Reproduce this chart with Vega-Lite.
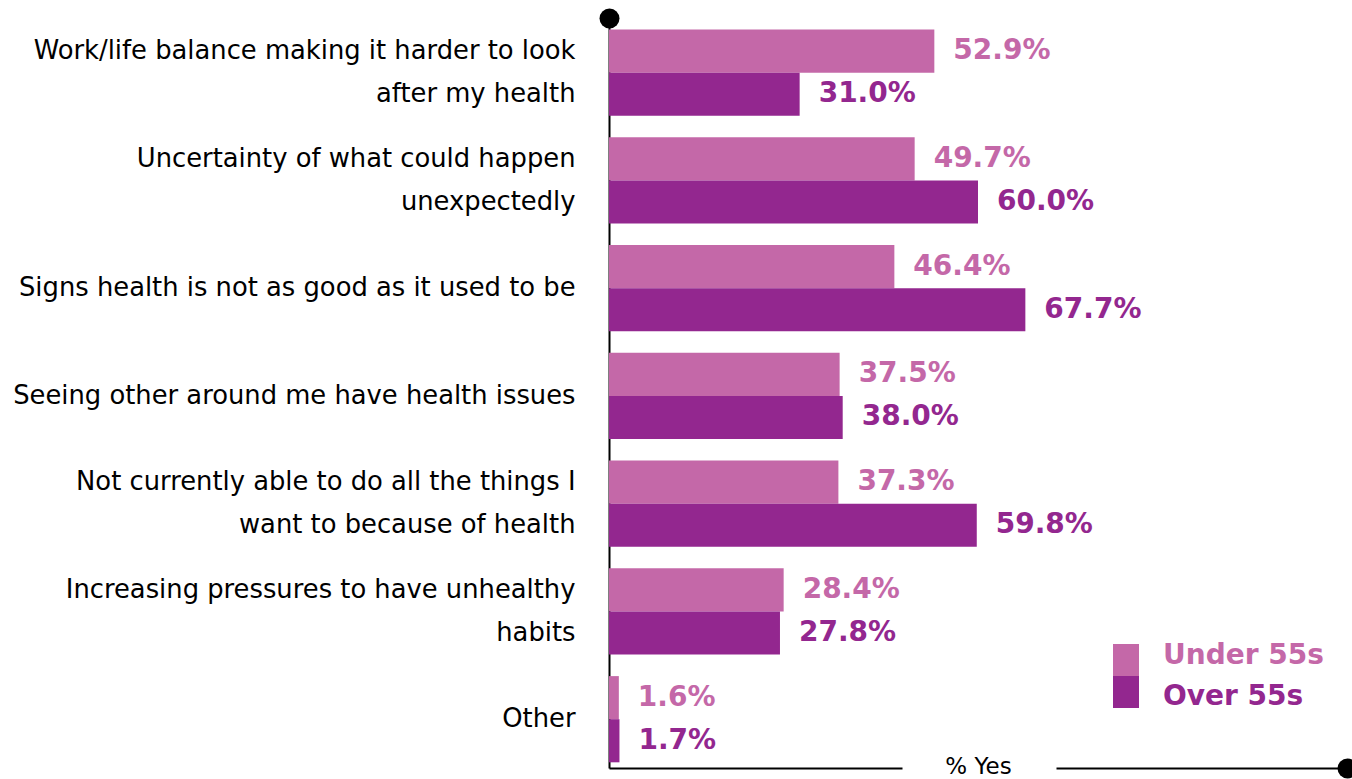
{
  "$schema": "https://vega.github.io/schema/vega-lite/v6.json",
  "width": 738,
  "height": 750,
  "autosize": {"type": "none"},
  "padding": {"left": 609, "top": 18, "right": 5, "bottom": 11},
  "background": "white",
  "config": {"view": {"stroke": null}, "font": "DejaVu Sans"},
  "data": {
    "values": [
      {"reason": "Work/life balance making it harder to look|after my health", "group": "Under 55s", "value": 52.9},
      {"reason": "Work/life balance making it harder to look|after my health", "group": "Over 55s", "value": 31.0},
      {"reason": "Uncertainty of what could happen|unexpectedly", "group": "Under 55s", "value": 49.7},
      {"reason": "Uncertainty of what could happen|unexpectedly", "group": "Over 55s", "value": 60.0},
      {"reason": "Signs health is not as good as it used to be", "group": "Under 55s", "value": 46.4},
      {"reason": "Signs health is not as good as it used to be", "group": "Over 55s", "value": 67.7},
      {"reason": "Seeing other around me have health issues", "group": "Under 55s", "value": 37.5},
      {"reason": "Seeing other around me have health issues", "group": "Over 55s", "value": 38.0},
      {"reason": "Not currently able to do all the things I|want to because of health", "group": "Under 55s", "value": 37.3},
      {"reason": "Not currently able to do all the things I|want to because of health", "group": "Over 55s", "value": 59.8},
      {"reason": "Increasing pressures to have unhealthy|habits", "group": "Under 55s", "value": 28.4},
      {"reason": "Increasing pressures to have unhealthy|habits", "group": "Over 55s", "value": 27.8},
      {"reason": "Other", "group": "Under 55s", "value": 1.6},
      {"reason": "Other", "group": "Over 55s", "value": 1.7}
    ]
  },
  "transform": [{"calculate": "format(datum.value, '.1f') + '%'", "as": "label"}],
  "encoding": {
    "y": {
      "field": "reason",
      "type": "nominal",
      "sort": null,
      "scale": {"paddingInner": 0.2, "paddingOuter": 0.08, "align": 0.67},
      "axis": {
        "title": null,
        "domainColor": "black",
        "domainWidth": 2,
        "ticks": false,
        "labelFont": "DejaVu Sans",
        "labelFontSize": 25.8,
        "labelColor": "black",
        "labelPadding": 34,
        "labelLimit": 0,
        "labelLineHeight": 43,
        "labelOffset": {"condition": {"test": "indexof(datum.value, '|') >= 0", "value": -21.5}, "value": 0},
        "labelExpr": "split(datum.label, '|')"
      }
    },
    "yOffset": {
      "field": "group",
      "sort": ["Under 55s", "Over 55s"],
      "scale": {"paddingInner": 0, "paddingOuter": 0}
    }
  },
  "layer": [
    {
      "mark": {"type": "bar"},
      "encoding": {
        "x": {
          "field": "value",
          "type": "quantitative",
          "scale": {"domain": [0, 120], "nice": false},
          "axis": {
            "orient": "bottom",
            "values": [120],
            "labels": false,
            "grid": false,
            "domainColor": "black",
            "domainWidth": 2,
            "domainDash": [293, 154, 400],
            "tickColor": "black",
            "tickWidth": 20,
            "tickSize": 0.01,
            "tickCap": "round",
            "title": "% Yes",
            "titleFont": "DejaVu Sans",
            "titleFontSize": 23,
            "titleFontWeight": "normal",
            "titleColor": "black",
            "titleBaseline": "middle",
            "titlePadding": -12
          }
        },
        "color": {
          "field": "group",
          "type": "nominal",
          "scale": {"domain": ["Under 55s", "Over 55s"], "range": ["#C468A8", "#93278F"]},
          "legend": {
            "orient": "none",
            "legendX": 501,
            "legendY": 626,
            "title": null,
            "padding": 0,
            "rowPadding": 0,
            "symbolType": "M-0.8125,-1H0.8125V1H-0.8125Z",
            "symbolSize": 1024,
            "symbolStrokeWidth": 0,
            "symbolOpacity": 1,
            "labelFont": "DejaVu Sans",
            "labelFontSize": 28,
            "labelFontWeight": "bold",
            "labelOffset": 21,
            "labelLimit": 0,
            "encode": {
              "labels": {
                "update": {
                  "fill": {"scale": "color", "field": "value"},
                  "dy": {"signal": "datum.value === 'Under 55s' ? -4 : 5"}
                }
              }
            }
          }
        }
      }
    },
    {
      "mark": {"type": "text", "align": "left", "baseline": "middle", "dx": 19, "font": "DejaVu Sans", "fontSize": 28, "fontWeight": "bold"},
      "encoding": {
        "x": {
          "field": "value",
          "type": "quantitative",
          "scale": {"domain": [0, 120], "nice": false},
          "axis": {
            "orient": "top",
            "values": [0],
            "labels": false,
            "domain": false,
            "grid": false,
            "tickColor": "black",
            "tickWidth": 20,
            "tickSize": 0.01,
            "tickCap": "round",
            "title": null
          }
        },
        "text": {"field": "label"},
        "color": {
          "field": "group",
          "type": "nominal",
          "scale": {"domain": ["Under 55s", "Over 55s"], "range": ["#C468A8", "#93278F"]},
          "legend": null
        }
      }
    }
  ],
  "resolve": {"scale": {"x": "independent"}}
}
